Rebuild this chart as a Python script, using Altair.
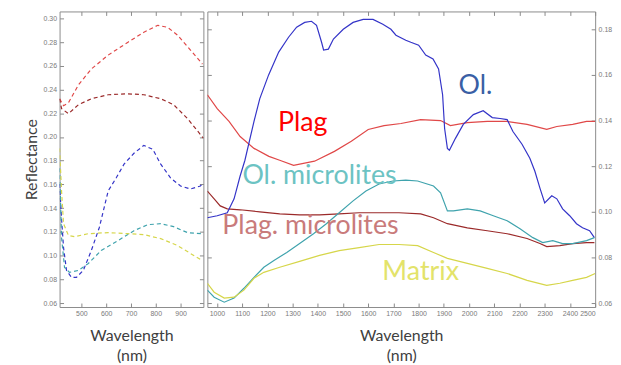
import altair as alt
import pandas as pd

# ---------------- data ----------------
series_names = ["Plag", "Plag. microlites", "Ol.", "Ol. microlites", "Matrix"]

# Left panel (VNIR, dashed)
l_plag_nm = [412, 428, 448, 488, 540, 608, 688, 752, 808, 848, 888, 940, 988]
l_plag_r = [0.2322, 0.2264, 0.2289, 0.2439, 0.2573, 0.2690, 0.2799, 0.2883, 0.2941, 0.2924, 0.2858, 0.2732, 0.2615]

l_plagm_nm = [412, 420, 448, 488, 540, 608, 688, 752, 820, 872, 928, 980, 992]
l_plagm_r = [0.2322, 0.2239, 0.2197, 0.2272, 0.2322, 0.2356, 0.2364, 0.2356, 0.2322, 0.2272, 0.2155, 0.2021, 0.1990]

l_ol_nm = [412, 420, 428, 440, 460, 480, 508, 540, 572, 608, 640, 672, 712, 752, 788, 820, 860, 900, 940, 980, 992]
l_ol_r = [0.1603, 0.1311, 0.1068, 0.0876, 0.0817, 0.0817, 0.0876, 0.1043, 0.1235, 0.1545, 0.1654, 0.1771,
          0.1863, 0.1929, 0.1896, 0.1771, 0.1654, 0.1587, 0.1562, 0.1587, 0.1612]

l_olm_nm = [412, 420, 432, 452, 488, 528, 580, 648, 712, 768, 820, 872, 928, 988]
l_olm_r = [0.1737, 0.1152, 0.0901, 0.0859, 0.0876, 0.0934, 0.1043, 0.1127, 0.1210, 0.1261, 0.1269, 0.1244, 0.1194, 0.1185]

l_mat_nm = [412, 420, 428, 448, 472, 528, 608, 688, 752, 820, 888, 940, 980]
l_mat_r = [0.1904, 0.1545, 0.1269, 0.1169, 0.1160, 0.1185, 0.1194, 0.1185, 0.1177, 0.1143, 0.1085, 0.1018, 0.0968]

# Right panel (SWIR, solid)
r_plag_nm = [962, 1001, 1048, 1092, 1147, 1206, 1249, 1304, 1387, 1466, 1533, 1600, 1663, 1730, 1808, 1887,
             1926, 1993, 2072, 2151, 2230, 2308, 2348, 2411, 2466, 2500]
r_plag_r = [0.1513, 0.1452, 0.1396, 0.1330, 0.1278, 0.1243, 0.1226, 0.1204, 0.1222, 0.1265, 0.1309, 0.1361,
            0.1378, 0.1387, 0.1404, 0.1400, 0.1378, 0.1391, 0.1396, 0.1396, 0.1383, 0.1361, 0.1374, 0.1383,
            0.1396, 0.1396]

r_plagm_nm = [962, 989, 1013, 1041, 1092, 1170, 1249, 1328, 1407, 1485, 1564, 1643, 1722, 1808, 1859, 1914,
              1993, 2072, 2151, 2230, 2281, 2308, 2360, 2411, 2466, 2497]
r_plagm_r = [0.1091, 0.1057, 0.1026, 0.1013, 0.1009, 0.1000, 0.0991, 0.0987, 0.0987, 0.0991, 0.0996, 0.0996,
             0.0996, 0.0991, 0.0974, 0.0948, 0.0930, 0.0917, 0.0904, 0.0883, 0.0861, 0.0848, 0.0852, 0.0861,
             0.0865, 0.0865]

r_ol_nm = [962, 1001, 1041, 1068, 1092, 1111, 1147, 1170, 1205, 1245, 1284, 1316, 1348, 1375, 1395, 1415,
           1423, 1442, 1462, 1501, 1540, 1580, 1619, 1658, 1690, 1710, 1749, 1769, 1800, 1828, 1857, 1879,
           1895, 1903, 1914, 1922, 1946, 1977, 2017, 2056, 2092, 2123, 2151, 2174, 2210, 2241, 2261, 2281,
           2300, 2328, 2348, 2371, 2399, 2426, 2450, 2478, 2497]
r_ol_r = [0.0974, 0.0983, 0.0996, 0.1057, 0.1157, 0.1226, 0.1396, 0.1496, 0.1600, 0.1700, 0.1765, 0.1809,
          0.1830, 0.1835, 0.1817, 0.1743, 0.1709, 0.1713, 0.1757, 0.1800, 0.1830, 0.1843, 0.1843, 0.1822,
          0.1800, 0.1774, 0.1752, 0.1743, 0.1730, 0.1687, 0.1670, 0.1626, 0.1513, 0.1365, 0.1278, 0.1270,
          0.1322, 0.1383, 0.1426, 0.1443, 0.1413, 0.1409, 0.1404, 0.1352, 0.1296, 0.1235, 0.1178, 0.1104,
          0.1039, 0.1070, 0.1057, 0.1013, 0.0983, 0.0948, 0.0930, 0.0917, 0.0887]

r_olm_nm = [962, 989, 1029, 1068, 1107, 1147, 1186, 1226, 1277, 1328, 1383, 1434, 1485, 1540, 1591, 1643,
            1698, 1749, 1796, 1859, 1887, 1914, 1938, 1993, 2044, 2096, 2151, 2202, 2253, 2292, 2332, 2371,
            2411, 2466, 2497]
r_olm_r = [0.0657, 0.0626, 0.0604, 0.0622, 0.0665, 0.0713, 0.0757, 0.0787, 0.0822, 0.0861, 0.0904, 0.0948,
           0.0996, 0.1048, 0.1091, 0.1122, 0.1135, 0.1139, 0.1135, 0.1113, 0.1083, 0.1004, 0.1004, 0.1013,
           0.1004, 0.0983, 0.0961, 0.0926, 0.0887, 0.0865, 0.0874, 0.0861, 0.0861, 0.0874, 0.0887]

r_mat_nm = [962, 989, 1029, 1068, 1107, 1147, 1186, 1249, 1328, 1407, 1485, 1564, 1643, 1722, 1796, 1859,
            1914, 1993, 2072, 2151, 2230, 2308, 2360, 2411, 2466, 2500]
r_mat_r = [0.0687, 0.0648, 0.0622, 0.0626, 0.0657, 0.0709, 0.0735, 0.0757, 0.0783, 0.0809, 0.0830, 0.0843,
           0.0857, 0.0857, 0.0852, 0.0822, 0.0796, 0.0774, 0.0752, 0.0730, 0.0700, 0.0678, 0.0687, 0.0700,
           0.0713, 0.0730]

left_ticks_x = [500, 600, 700, 800, 900]
left_ticks_y = [0.06, 0.08, 0.10, 0.12, 0.14, 0.16, 0.18, 0.20, 0.22, 0.24, 0.26, 0.28, 0.30]
right_ticks_x = list(range(1000, 2501, 100))
right_ticks_y = [0.06, 0.08, 0.10, 0.12, 0.14, 0.16, 0.18]

ann_labels = ["Ol.", "Plag", "Ol. microlites", "Plag. microlites", "Matrix"]
ann_nm = [2025, 1340, 1407, 1371, 1808]
ann_r = [0.1517, 0.1352, 0.1122, 0.0904, 0.0700]

# ---------------- styles ----------------
left_colors = ["#e04848", "#9b2a2a", "#3434c8", "#3fa3ad", "#d6d64a"]
right_colors = ["#d84848", "#8e2424", "#2e2eb8", "#2f9c9c", "#d9d93a"]
ann_colors = ["#3a5fa5", "#ff0000", "#6cc3c3", "#c97b7b", "#e3e36a"]


def frame(nms, vals):
    rows = []
    for name, xs, ys in zip(series_names, nms, vals):
        for a, b in zip(xs, ys):
            rows.append({"series": name, "nm": a, "refl": b})
    return pd.DataFrame(rows)


left_df = frame([l_plag_nm, l_plagm_nm, l_ol_nm, l_olm_nm, l_mat_nm],
                [l_plag_r, l_plagm_r, l_ol_r, l_olm_r, l_mat_r])
right_df = frame([r_plag_nm, r_plagm_nm, r_ol_nm, r_olm_nm, r_mat_nm],
                 [r_plag_r, r_plagm_r, r_ol_r, r_olm_r, r_mat_r])

LABEL_FONT = "Liberation Sans"
TITLE_FONT = "Lato"
TICK_COLOR = "#8a8a8a"

common_axis = dict(domain=False, grid=False, offset=-4, tickSize=4, tickColor=TICK_COLOR,
                   labelFont=LABEL_FONT, labelFontSize=7, labelColor="#7a7a7a",
                   titleFont=TITLE_FONT, titleFontSize=16, titleFontWeight="normal",
                   titleColor="#404040")

lx_scale = alt.Scale(domain=[412, 992], nice=False, zero=False)
ly_scale = alt.Scale(domain=[0.0567, 0.3058], nice=False, zero=False)
rx_scale = alt.Scale(domain=[962, 2500], nice=False, zero=False)
ry_scale = alt.Scale(domain=[0.0583, 0.1878], nice=False, zero=False)

H = 298

# ---------- left panel ----------
left_lines = alt.Chart(left_df).mark_line(strokeDash=[4, 3], strokeWidth=1.2, clip=True).encode(
    x=alt.X("nm:Q", scale=lx_scale,
            axis=alt.Axis(values=left_ticks_x, orient="bottom", format="d", title=["Wavelength", "(nm)"],
                          labelPadding=3, titlePadding=11, titleLineHeight=20, **common_axis)),
    y=alt.Y("refl:Q", scale=ly_scale,
            axis=alt.Axis(values=left_ticks_y, orient="left", format=".2f", title="Reflectance",
                          labelPadding=3, titlePadding=4, **common_axis)),
    color=alt.Color("series:N", scale=alt.Scale(domain=series_names, range=left_colors), legend=None),
    detail="series:N",
)
left_mirror = alt.Chart(left_df).mark_line(opacity=0).encode(
    x=alt.X("nm:Q", scale=lx_scale,
            axis=alt.Axis(values=left_ticks_x, orient="top", labels=False, title=None, **common_axis)),
    y=alt.Y("refl:Q", scale=ly_scale,
            axis=alt.Axis(values=left_ticks_y, orient="right", labels=False, title=None, **common_axis)),
    detail="series:N",
)
left = alt.layer(left_lines, left_mirror).resolve_axis(x="independent", y="independent").properties(
    width=145, height=H)

# ---------- right panel ----------
right_lines = alt.Chart(right_df).mark_line(strokeWidth=1.2, clip=True).encode(
    x=alt.X("nm:Q", scale=rx_scale,
            axis=alt.Axis(values=right_ticks_x, orient="bottom", format="d", title=["Wavelength", "(nm)"],
                          labelPadding=3, titlePadding=11, titleLineHeight=20, **common_axis)),
    y=alt.Y("refl:Q", scale=ry_scale,
            axis=alt.Axis(values=right_ticks_y, orient="right", format=".2f", title=None,
                          labelPadding=3, **common_axis)),
    color=alt.Color("series:N", scale=alt.Scale(domain=series_names, range=right_colors), legend=None),
    detail="series:N",
)
right_mirror = alt.Chart(right_df).mark_line(opacity=0).encode(
    x=alt.X("nm:Q", scale=rx_scale,
            axis=alt.Axis(values=right_ticks_x, orient="top", labels=False, title=None, **common_axis)),
    y=alt.Y("refl:Q", scale=ry_scale,
            axis=alt.Axis(values=right_ticks_y, orient="left", labels=False, title=None, **common_axis)),
    detail="series:N",
)

ann_layers = []
for lab, a, b, col in zip(ann_labels, ann_nm, ann_r, ann_colors):
    d = pd.DataFrame({"nm": [a], "refl": [b], "label": [lab]})
    ann_layers.append(
        alt.Chart(d).mark_text(font=TITLE_FONT, fontSize=27, align="center", baseline="alphabetic",
                               color=col).encode(
            x=alt.X("nm:Q", scale=rx_scale, axis=None),
            y=alt.Y("refl:Q", scale=ry_scale, axis=None),
            text="label:N",
        )
    )

right = alt.layer(right_lines, right_mirror, *ann_layers).resolve_axis(
    x="independent", y="independent").properties(width=391, height=H)

chart = alt.hconcat(left, right, spacing=2).properties(
    padding={"left": 14, "top": 1, "right": 0, "bottom": 0}
).configure_view(stroke="#8c8c8c", strokeWidth=1)

chart.save("out.html", embed_options={"renderer": "svg", "actions": False})
